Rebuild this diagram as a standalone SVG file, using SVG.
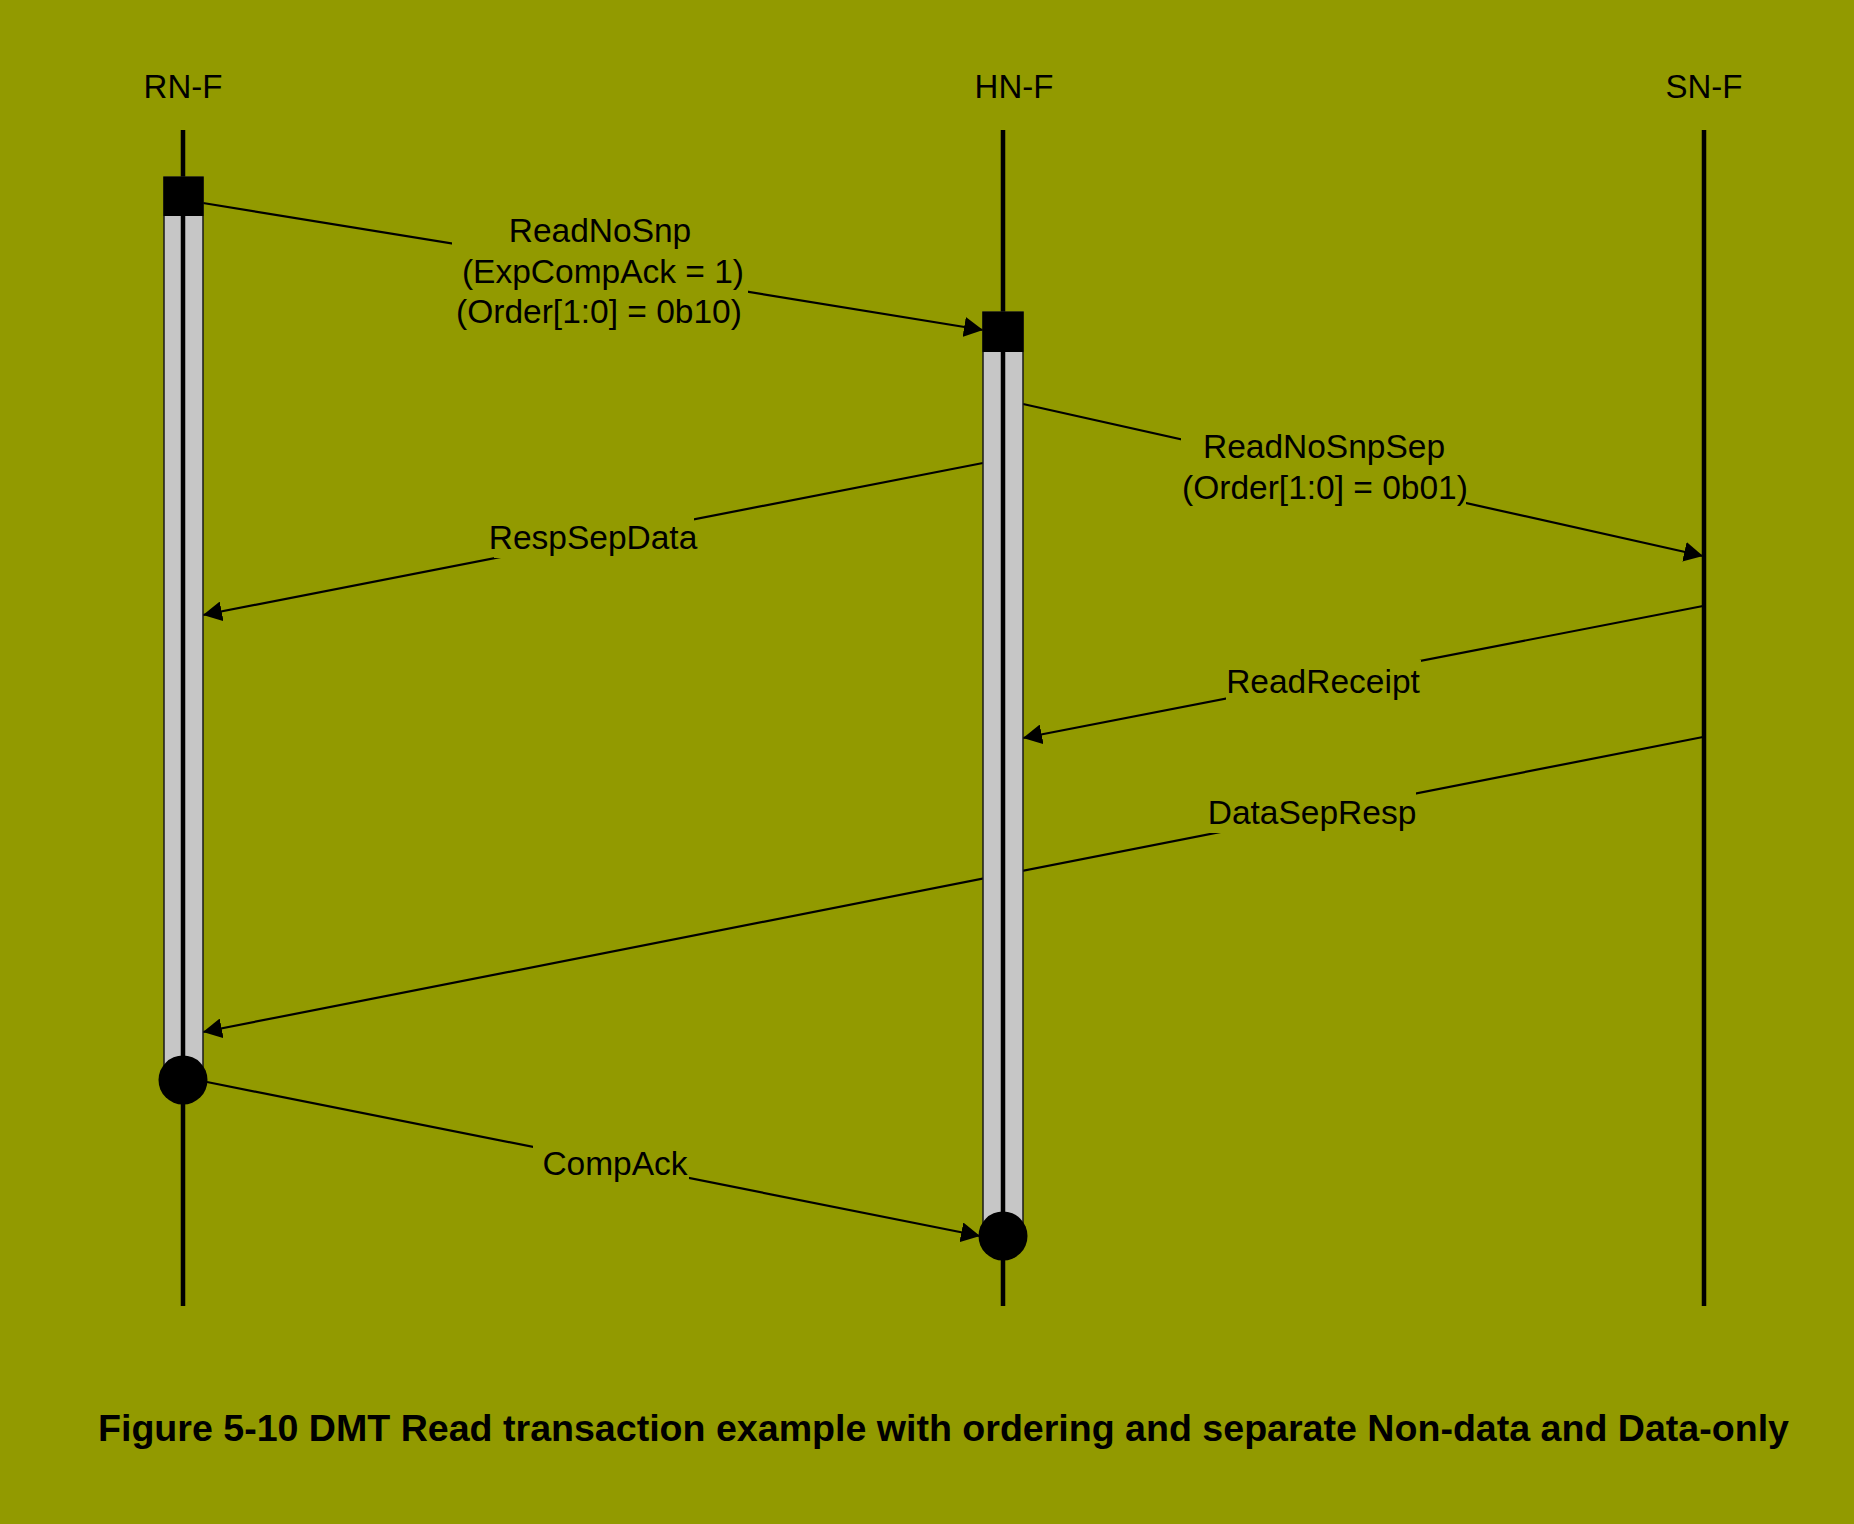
<svg xmlns="http://www.w3.org/2000/svg" width="1854" height="1524" viewBox="0 0 1854 1524">
<style>
text{font-family:"Liberation Sans",Arial,sans-serif;fill:#000}
.hdr{font-size:33px;text-anchor:middle}
.lbl{font-size:33.5px;text-anchor:middle}
.cap{font-size:37.5px;font-weight:bold}
.conn{stroke:#000;stroke-width:2.2;fill:none;marker-end:url(#arr)}
.mask{fill:#929a00}
.life{stroke:#000;stroke-width:4.5}
.act{fill:#c6c6c6;stroke:#1a1a1a;stroke-width:1.5}
</style>
<defs>
<marker id="arr" viewBox="0 0 19 20" refX="19" refY="10" markerWidth="19" markerHeight="20" orient="auto" markerUnits="userSpaceOnUse">
<path d="M0,0 L19,10 L0,20 Z" fill="#000"/>
</marker>
</defs>
<rect width="1854" height="1524" fill="#929a00"/>

<g id="connectors">
<line class="conn" x1="203" y1="203" x2="983" y2="330"/>
<rect class="mask" x="452" y="212" width="296" height="120"/>
<text class="lbl" x="600" y="242">ReadNoSnp</text>
<text class="lbl" x="603" y="283">(ExpCompAck = 1)</text>
<text class="lbl" x="599" y="323">(Order[1:0] = 0b10)</text>

<line class="conn" x1="1023" y1="404" x2="1703" y2="556"/>
<rect class="mask" x="1181" y="425" width="285" height="85"/>
<text class="lbl" x="1324" y="458">ReadNoSnpSep</text>
<text class="lbl" x="1325" y="499">(Order[1:0] = 0b01)</text>

<line class="conn" x1="983" y1="463" x2="203" y2="615"/>
<rect class="mask" x="494" y="516" width="200" height="42"/>
<text class="lbl" x="593" y="549">RespSepData</text>

<line class="conn" x1="1703" y1="606" x2="1023" y2="738"/>
<rect class="mask" x="1226" y="660" width="195" height="42"/>
<text class="lbl" x="1323" y="693">ReadReceipt</text>

<line class="conn" x1="1703" y1="737" x2="203" y2="1032"/>
<rect class="mask" x="1208" y="791" width="208" height="42"/>
<text class="lbl" x="1312" y="824">DataSepResp</text>

<line class="conn" x1="207" y1="1082" x2="980" y2="1236"/>
<rect class="mask" x="533" y="1143" width="156" height="42"/>
<text class="lbl" x="615" y="1175">CompAck</text>
</g>

<g id="node-rnf">
<text class="hdr" x="183" y="98">RN-F</text>
<line class="life" x1="183" y1="130" x2="183" y2="1306"/>
<rect class="act" x="164" y="177" width="39" height="893"/>
<line class="life" x1="183" y1="177" x2="183" y2="1070"/>
<rect x="163.5" y="177" width="40" height="39" fill="#000"/>
<circle cx="183" cy="1080" r="24.5" fill="#000"/>
</g>

<g id="node-hnf">
<text class="hdr" x="1014" y="98">HN-F</text>
<line class="life" x1="1003" y1="130" x2="1003" y2="1306"/>
<rect class="act" x="983" y="312" width="40" height="915"/>
<line class="life" x1="1003" y1="312" x2="1003" y2="1230"/>
<rect x="982.5" y="312" width="41" height="40" fill="#000"/>
<circle cx="1003" cy="1236" r="24.5" fill="#000"/>
</g>

<g id="node-snf">
<text class="hdr" x="1704" y="98">SN-F</text>
<line class="life" x1="1704" y1="130" x2="1704" y2="1306"/>
</g>

<text class="cap" x="98" y="1441" textLength="1691" lengthAdjust="spacingAndGlyphs">Figure 5-10 DMT Read transaction example with ordering and separate Non-data and Data-only</text>
</svg>
